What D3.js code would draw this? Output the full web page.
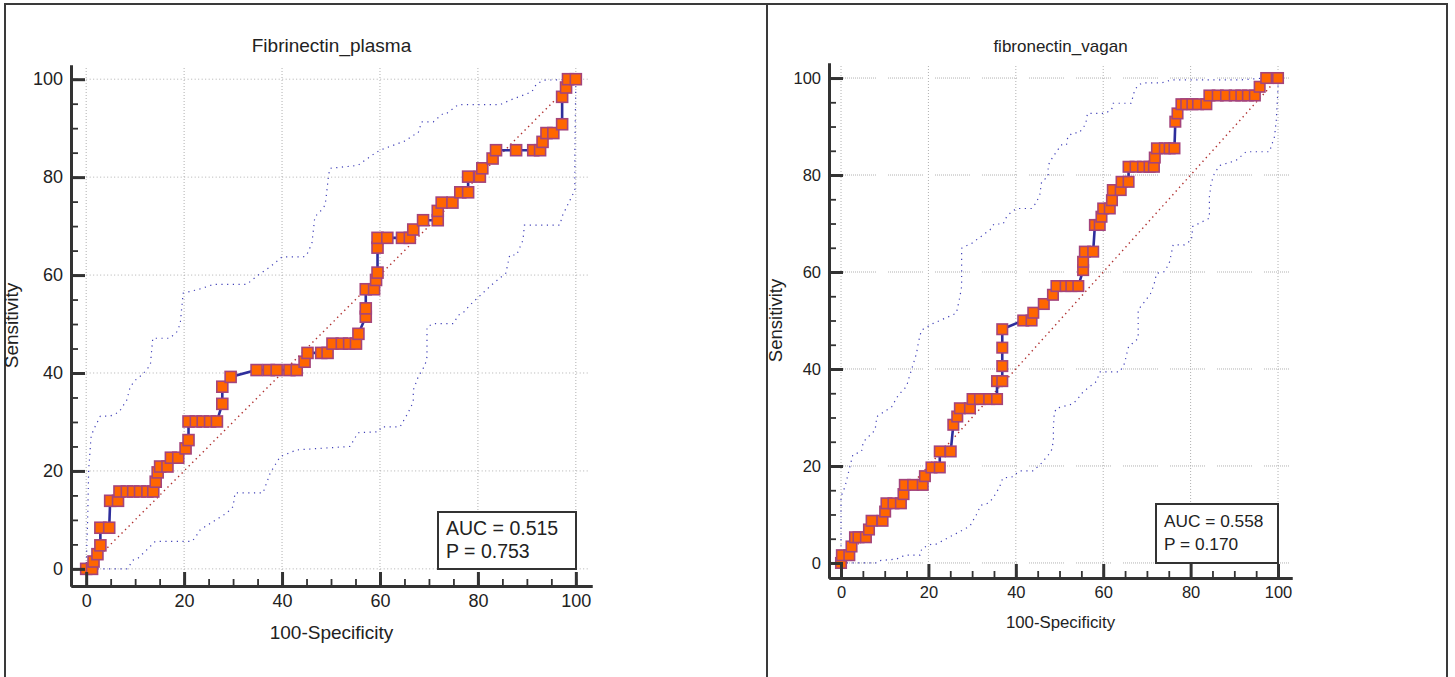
<!DOCTYPE html>
<html lang="en">
<head>
<meta charset="UTF-8">
<title>ROC curves</title>
<script src="https://d3js.org/d3.v7.min.js"></script>
<style>
    html, body {
        margin: 0;
        background: white;
    }
    svg {
        display: block;
        font-family: "Liberation Sans", Arial, sans-serif;
    }
    .tick text {
        fill: #222;
    }
</style>
</head>
<body>
<div id="chart"></div>
<script>

// ---- data (100-Specificity, Sensitivity) ----
const plasmaRoc = [[0,0],[1.2,0],[1.5,1.5],[2.3,3.0],[2.9,4.8],[2.9,8.4],[4.7,8.4],[4.9,13.9],[6.5,13.9],[6.8,15.8],[8.3,15.8],[9.6,15.8],[11.0,15.8],[12.5,15.8],[13.7,15.8],[14.2,17.8],[14.6,19.7],[15.1,20.9],[16.6,20.9],[17.3,22.7],[18.8,22.7],[20.3,24.6],[20.9,26.3],[20.9,30.1],[22.4,30.1],[23.8,30.1],[25.3,30.1],[26.7,30.1],[27.8,33.7],[27.8,37.2],[29.5,39.2],[34.8,40.6],[37.3,40.6],[38.9,40.6],[41.5,40.6],[43.0,40.6],[44.6,42.3],[45.2,44.1],[48.0,44.1],[49.3,44.1],[50.3,46.0],[52.2,46.0],[53.7,46.0],[55.1,46.0],[55.6,48.0],[57.1,51.5],[57.1,53.2],[57.1,57.1],[58.8,57.1],[59.2,59.0],[59.5,60.5],[59.5,65.6],[59.5,67.6],[61.5,67.6],[64.5,67.6],[66.1,67.6],[66.8,69.3],[68.8,71.2],[71.8,71.2],[71.8,73.1],[72.6,74.8],[74.8,74.8],[76.4,76.9],[78.0,76.9],[78.0,80.1],[80.4,80.1],[80.9,81.8],[83.0,83.8],[83.7,85.5],[87.8,85.5],[91.3,85.5],[92.7,85.5],[93.2,87.2],[94.0,89.0],[95.4,89.0],[97.2,90.8],[97.2,96.4],[98.0,98.3],[98.4,100],[100,100]];

const plasmaUpper = [[0,0],[0.3,10],[0.5,20],[1,27],[1.5,28.4],[2.9,31.2],[4.9,31.2],[6.7,32],[8.3,34.5],[9,37.2],[10.3,38.8],[11.4,39.6],[13.1,41.6],[13.6,47.1],[17.1,47.1],[18.5,48.4],[19.2,50],[19.8,56.3],[22.6,57],[23.7,57.3],[26,58.1],[32.8,58.1],[35,59.9],[37.6,61.7],[40,63.7],[44.3,63.7],[45,64],[46.1,66.5],[46.7,71.9],[48.1,73.3],[48.8,74.3],[49.1,76.7],[49.5,80.4],[49.8,81.8],[55.5,82.4],[57,83.5],[59,84.9],[60,85.5],[65.4,87.5],[66.5,88.4],[67.8,89],[68.5,91.3],[70.9,91.3],[72.9,93],[73.6,93],[76,94.8],[84.5,94.8],[86.5,95.7],[91,97.4],[92,99.1],[93.7,99.8],[100,100]];

const plasmaLower = [[0,0],[8.4,0],[9.6,1.8],[10.4,2],[12.7,4.2],[14.1,5.6],[21.6,5.6],[22.2,6.3],[23.3,8],[28.7,11.4],[30,12.7],[30.4,15.5],[36.1,15.5],[37.6,19.6],[39.6,22.9],[43,24.3],[53.9,25],[55.5,27.8],[59.7,28],[60.3,29],[64.1,29],[65.7,31.8],[66.8,34.1],[66.8,36.5],[67.8,39.2],[69.2,41.6],[69.6,43.3],[69.6,49.4],[70.9,50.1],[75,50.1],[76,51.8],[77,52.3],[78.4,53.9],[82.8,58],[85.7,60.4],[86.5,64.1],[87.9,64.1],[89.2,67.1],[89.5,70.2],[96.7,70.2],[97.3,72.2],[98.8,75.3],[99.8,77.3],[99.8,85.5],[100,100]];

const vaganRoc = [[0,0],[0.2,1.6],[1.9,1.6],[2.4,3.4],[3.2,5.3],[4.0,5.3],[5.7,5.3],[6.4,6.9],[7.0,8.7],[9.5,8.7],[10.1,10.6],[10.4,12.3],[12.0,12.3],[13.7,12.3],[14.3,14.2],[14.6,16.1],[16.5,16.1],[18.7,16.1],[19.2,17.9],[20.7,19.7],[22.6,19.7],[22.6,23.0],[25.1,23.0],[25.7,28.5],[26.6,30.2],[27.2,31.9],[29.5,31.9],[30.1,33.8],[31.8,33.8],[33.9,33.8],[35.7,33.8],[35.7,37.5],[36.9,37.5],[36.9,40.6],[36.9,44.4],[36.9,48.2],[41.7,50],[43.6,50],[44,51.6],[46.4,53.4],[48.5,55.3],[49.3,57.1],[51.4,57.1],[52.7,57.1],[54.3,57.1],[55.4,60.4],[55.4,62.1],[55.8,64.2],[57.7,64.2],[58.1,69.7],[59.2,69.7],[59.6,71.4],[60,73.1],[61.5,73.1],[62,74.8],[62.2,76.9],[64.0,76.9],[64.2,78.6],[65.8,78.6],[65.8,81.7],[67.4,81.7],[69.1,81.7],[70.6,81.7],[71.6,81.7],[71.8,83.6],[72.3,85.5],[74.1,85.5],[75.2,85.5],[76.3,85.5],[76.5,91.0],[77,92.7],[77.9,94.6],[79,94.6],[80.4,94.6],[81.7,94.6],[83.6,94.6],[84.3,96.4],[86.2,96.4],[88.1,96.4],[90.1,96.4],[91.6,96.4],[93.1,96.4],[94.7,96.4],[95.8,98.2],[97.3,100],[100,100]];

const vaganUpper = [[0,0],[0,4.7],[0,13.7],[0.9,15.7],[2.7,22.3],[4.7,23],[5.1,25],[7.8,27.4],[8.2,30.2],[11.6,32.2],[13.1,34.6],[15,36.4],[15.5,38],[17.3,43.3],[17.7,45.5],[18.4,48],[21.1,49.4],[26.4,51.5],[27.2,54.9],[27.6,57],[27.6,64.9],[29.1,65.6],[29.9,65.9],[34.1,68.7],[35,69.9],[37.1,69.9],[37.9,71.4],[39,72.4],[40.2,73.1],[43.6,73.1],[44.7,74.3],[45.5,76],[45.9,78.6],[47.4,79.7],[47.4,82],[48.5,83.8],[49.5,85],[50.3,86.2],[51.6,86.2],[51.9,87.9],[53,88.7],[54.5,88.7],[56,90.5],[56.4,92.7],[60.3,92.7],[61.9,93.4],[62.3,94.8],[66.4,94.8],[67.2,97.5],[68,98.5],[69,99],[73.3,99],[75.6,99.6],[91.2,99.6],[97,100],[100,100]];

const vaganLower = [[0,0],[8.2,0],[8.9,0.5],[12.7,0.8],[14.6,1.6],[18.1,1.6],[18.5,3],[20.7,3.9],[21.8,3.9],[28.7,7.2],[29.5,7.6],[31,10],[32,11.9],[33.9,12.4],[35,13.7],[36.3,15.7],[37,17.5],[39.5,17.8],[40.2,18.5],[41,19],[44,19],[45.9,20.6],[48.1,23],[48.6,25.1],[48.6,28.1],[48.8,30.9],[49.3,31.9],[53.1,32.8],[54.3,34],[55.4,35.3],[58.4,37.4],[59.3,39.4],[63.8,39.4],[64.9,41.2],[65.3,42.8],[65.8,44.6],[68,46.3],[68,52.2],[69.5,53.9],[70.8,55.5],[71.6,57.3],[72.2,59.7],[74.1,60.1],[75.2,62.1],[76,65.6],[78.6,65.6],[80.2,66.6],[80.5,69.4],[84.3,71.1],[84.3,75.5],[84.7,78.3],[85.5,80.5],[86.8,82],[90.4,83],[92.7,84.8],[98.1,84.8],[98.4,85.8],[99.2,87.9],[99.6,91.3],[100,98],[100,100]];

const majorTicks = [0, 20, 40, 60, 80, 100];
const minorTicks = d3.range(0, 101, 5);
const titles = ["Fibrinectin_plasma", "fibronectin_vagan"];
const aucLabels = ["AUC = 0.515", "AUC = 0.558"];
const pLabels = ["P = 0.753", "P = 0.170"];

const width = 1455;
const height = 677;

const svg = d3.select("#chart").append("svg")
    .attr("width", width)
    .attr("height", height);

svg.append("rect").attr("width", width).attr("height", height).attr("fill", "white");

// panel frames
const frame = svg.append("g").attr("stroke", "#3a3a3a").attr("stroke-width", 2).attr("fill", "none");
frame.append("path").attr("d", "M5,677 V4 H1447 V677");
frame.append("line").attr("x1", 767).attr("x2", 767).attr("y1", 4).attr("y2", 677);

const drawPanel = (cfg) => {

    const x = d3.scaleLinear().domain(cfg.xDomain).range(cfg.xRange);
    const y = d3.scaleLinear().domain(cfg.yDomain).range(cfg.yRange);
    const g = svg.append("g");
    const fs = cfg.fs;

    // grid
    const grid = g.append("g").attr("stroke", "#b0b0b0").attr("stroke-width", 1).attr("fill", "none");
    grid.selectAll(".vg").data(majorTicks).enter().append("line")
        .attr("x1", d => x(d)).attr("x2", d => x(d))
        .attr("y1", cfg.yRange[1] + 3).attr("y2", cfg.yRange[0] - 3)
        .attr("stroke-dasharray", "1,2");
    grid.selectAll(".hg").data(majorTicks).enter().append("line")
        .attr("x1", x(0)).attr("x2", cfg.xRange[1] - 3)
        .attr("y1", d => y(d)).attr("y2", d => y(d))
        .attr("stroke-dasharray", cfg.hDash);

    // reference diagonal
    g.append("line")
        .attr("x1", x(0)).attr("y1", y(0)).attr("x2", x(100)).attr("y2", y(100))
        .attr("stroke", "#b03030").attr("stroke-width", 1.4)
        .attr("stroke-dasharray", "1.4,3.6");

    const line = d3.line().x(d => x(d[0])).y(d => y(d[1]));

    // confidence bands
    [cfg.upper, cfg.lower].forEach(band => {
        g.append("path")
            .attr("d", line(band))
            .attr("fill", "none")
            .attr("stroke", "#4040b8")
            .attr("stroke-width", 1.2)
            .attr("stroke-dasharray", "1.2,4.5");
    });

    // ROC curve
    g.append("path")
        .attr("d", line(cfg.roc))
        .attr("fill", "none")
        .attr("stroke", "#2e2e9c")
        .attr("stroke-width", 2.6);

    g.selectAll(".pt").data(cfg.roc).enter().append("rect")
        .attr("x", d => x(d[0]) - cfg.sq / 2)
        .attr("y", d => y(d[1]) - cfg.sq / 2)
        .attr("width", cfg.sq)
        .attr("height", cfg.sq)
        .attr("fill", "#ff6600")
        .attr("stroke", "#a4447c")
        .attr("stroke-width", 1.6);

    // axes
    const xAxisY = cfg.yRange[0];
    const yAxisX = cfg.xRange[0];

    const styleAxis = (sel, w) => {
        sel.select(".domain").attr("stroke", "#333").attr("stroke-width", 3);
        sel.selectAll(".tick line").attr("stroke", "#333").attr("stroke-width", w);
        sel.selectAll(".tick text").style("font-size", fs.tick + "px");
    };

    g.append("g")
        .attr("transform", `translate(0,${xAxisY})`)
        .call(d3.axisBottom(x).tickValues(minorTicks).tickSizeInner(-7).tickSizeOuter(0).tickFormat(""))
        .call(s => styleAxis(s, 1.8));
    g.append("g")
        .attr("transform", `translate(0,${xAxisY})`)
        .call(d3.axisBottom(x).tickValues(majorTicks).tickSizeInner(-14).tickSizeOuter(0).tickPadding(8))
        .call(s => styleAxis(s, 3))
        .call(s => s.selectAll("text").attr("dy", "0.74em"));

    g.append("g")
        .attr("transform", `translate(${yAxisX},0)`)
        .call(d3.axisLeft(y).tickValues(minorTicks).tickSizeInner(-7).tickSizeOuter(0).tickFormat(""))
        .call(s => styleAxis(s, 1.8));
    g.append("g")
        .attr("transform", `translate(${yAxisX},0)`)
        .call(d3.axisLeft(y).tickValues(majorTicks).tickSizeInner(-14).tickSizeOuter(0).tickPadding(8))
        .call(s => styleAxis(s, 3));

    const cx = (cfg.xRange[0] + cfg.xRange[1]) / 2;

    g.append("text")
        .attr("x", cx).attr("y", 52)
        .attr("text-anchor", "middle")
        .attr("font-size", fs.title).attr("fill", "#222")
        .text(cfg.title);

    g.append("text")
        .attr("x", cx).attr("y", xAxisY + cfg.xLabelGap)
        .attr("text-anchor", "middle")
        .attr("font-size", fs.label).attr("fill", "#222")
        .text("100-Specificity");

    g.append("text")
        .attr("transform", `translate(${cfg.yLabelX},${(cfg.yRange[0] + cfg.yRange[1]) / 2}) rotate(-90)`)
        .attr("text-anchor", "middle")
        .attr("font-size", fs.ylabel).attr("fill", "#222")
        .text("Sensitivity");

    // AUC box
    const box = g.append("g").attr("transform", `translate(${cfg.box[0]},${cfg.box[1]})`);
    box.append("rect")
        .attr("width", cfg.box[2]).attr("height", cfg.box[3])
        .attr("fill", "white").attr("stroke", "#333").attr("stroke-width", 2);
    box.append("text").attr("x", 8).attr("y", 23)
        .attr("font-size", fs.auc).attr("fill", "#222").text(cfg.auc);
    box.append("text").attr("x", 8).attr("y", 46)
        .attr("font-size", fs.auc).attr("fill", "#222").text(cfg.p);
};

drawPanel({
    xDomain: [-3.1, 103.3], xRange: [71, 592],
    yDomain: [-3.5, 102.9], yRange: [586, 65],
    roc: plasmaRoc, upper: plasmaUpper, lower: plasmaLower,
    sq: 11, hDash: "1,2.5",
    title: titles[0], auc: aucLabels[0], p: pLabels[0],
    yLabelX: 18, xLabelGap: 53,
    fs: { tick: 18, title: 19, label: 19, ylabel: 19, auc: 19.5 },
    box: [438, 512, 138, 57]
});

drawPanel({
    xDomain: [-2.75, 103.2], xRange: [829, 1292],
    yDomain: [-3.1, 103.1], yRange: [578, 63],
    roc: vaganRoc, upper: vaganUpper, lower: vaganLower,
    sq: 10.5, hDash: "1,1,1,1,1,1,1,1,1,1,1,1,1,1,1,1,1,1,1,1,1,1,1,1,1,1,1,1,1,1,1,1,1,1,1,12",
    title: titles[1], auc: aucLabels[1], p: pLabels[1],
    yLabelX: 782, xLabelGap: 50,
    fs: { tick: 16.5, title: 17, label: 16.8, ylabel: 18.5, auc: 17.3 },
    box: [1156, 504, 122, 59]
});

</script>
</body>
</html>
